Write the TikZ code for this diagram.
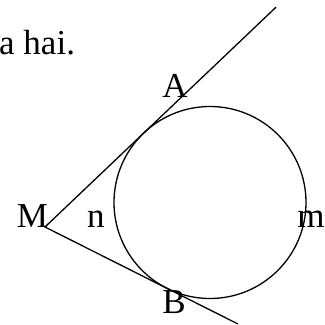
\documentclass[tikz,border=0pt]{standalone}
\usepackage{fontspec}
\setmainfont{Liberation Serif}
\usetikzlibrary{calc}
\begin{document}
\begin{tikzpicture}[x=1pt,y=1pt,
  lbl/.style={anchor=base,inner sep=0pt,font=\fontsize{35}{40}\selectfont},
  geo/.style={line width=1.3pt,black}]
\useasboundingbox (0,0) rectangle (325,325);
\node[draw,geo,circle,minimum size=192pt,inner sep=0pt,outer sep=0pt] (O) at (210,122.5) {};
\coordinate (M) at (45,98);
\coordinate (TA) at (tangent cs:node=O,point={(M)},solution=2);
\coordinate (TB) at (tangent cs:node=O,point={(M)},solution=1);
\coordinate (E1) at ($(M)!319pt!(TA)$);
\coordinate (E2) at ($(M)!216pt!(TB)$);
\draw[geo] (E1) -- (M) -- (E2);
\node[lbl,anchor=base west] (t) at (-1,271) {a hai.};
\node[lbl] (A) at (175,227) {A};
\node[lbl] (Ml) at (32.5,97) {M};
\node[lbl] (n) at (96,97) {n};
\node[lbl] (m) at (311,97) {m};
\node[lbl] (B) at (174,12) {B};
\end{tikzpicture}
\end{document}
